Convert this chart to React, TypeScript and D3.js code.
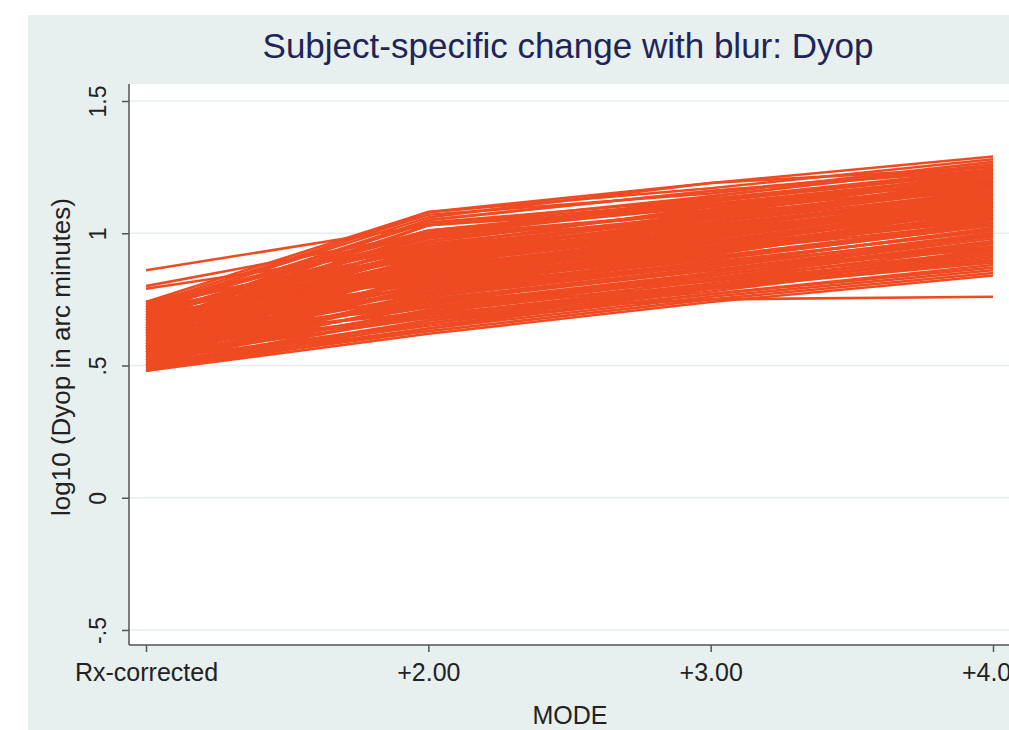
import { useEffect, useRef } from 'react';
import * as d3 from 'd3';

// MODE categories on the x axis
const modes = ['Rx-corrected', '+2.00', '+3.00', '+4.00'];

// log10 Dyop per subject, one array per mode (same subject order)
const rxValues = [
  0.86, 0.8, 0.79, 0.74, 0.73, 0.72, 0.72, 0.71, 0.7, 0.7, 0.69, 0.69, 0.68, 0.68, 0.67, 0.67,
  0.66, 0.66, 0.65, 0.65, 0.64, 0.64, 0.63, 0.63, 0.62, 0.62, 0.61, 0.61, 0.6, 0.6, 0.59, 0.59,
  0.58, 0.58, 0.57, 0.57, 0.56, 0.56, 0.55, 0.55, 0.54, 0.54, 0.53, 0.53, 0.52, 0.52, 0.51, 0.51,
  0.5, 0.5, 0.49, 0.49, 0.48, 0.48, 0.6, 0.66, 0.62, 0.58, 0.7, 0.72, 0.74, 0.55, 0.52, 0.5,
  0.68, 0.64, 0.57, 0.61, 0.71, 0.65, 0.59, 0.53, 0.73, 0.63, 0.56, 0.67,
  0.49, 0.51, 0.53, 0.54, 0.56, 0.57, 0.58, 0.59, 0.6, 0.61, 0.62, 0.63, 0.64, 0.65, 0.66, 0.67,
  0.68, 0.69, 0.7, 0.71, 0.72, 0.73, 0.74, 0.48, 0.5, 0.52, 0.55, 0.57, 0.59, 0.61, 0.63, 0.65,
  0.67, 0.69, 0.71, 0.62, 0.55, 0.58, 0.64, 0.66,
];
const plus2Values = [
  1.03, 1.0, 0.95, 1.08, 1.07, 1.06, 1.0, 1.04, 0.97, 0.93, 1.01, 0.95, 0.9, 0.99, 0.92, 0.86,
  0.96, 0.88, 0.94, 0.84, 0.91, 0.8, 0.87, 0.93, 0.82, 0.89, 0.78, 0.85, 0.9, 0.76, 0.83, 0.79,
  0.86, 0.74, 0.81, 0.77, 0.84, 0.72, 0.79, 0.75, 0.7, 0.8, 0.73, 0.68, 0.76, 0.66, 0.71, 0.65,
  0.69, 0.64, 0.67, 0.63, 0.62, 0.66, 0.7, 0.74, 0.72, 0.68, 0.82, 0.88, 0.98, 0.88, 0.84, 0.78,
  0.83, 0.97, 0.92, 0.95, 1.08, 1.03, 0.9, 0.8, 0.94, 0.85, 0.75, 1.05,
  0.7, 0.74, 0.77, 0.69, 0.8, 0.86, 0.91, 0.73, 0.85, 0.88, 0.94, 0.78, 0.86, 0.99, 0.81, 0.94,
  1.03, 0.87, 1.05, 0.91, 0.96, 1.01, 0.92, 0.64, 0.67, 0.71, 0.83, 0.75, 0.87, 0.82, 0.9, 0.77,
  0.89, 0.98, 0.86, 0.8, 0.72, 0.81, 0.93, 1.0,
];
const plus3Values = [
  1.1, 1.12, 1.06, 1.19, 1.15, 1.19, 1.1, 1.13, 1.09, 1.05, 1.11, 1.02, 1.04, 1.08, 1.0, 0.98,
  1.07, 1.01, 1.03, 0.96, 1.06, 0.93, 0.99, 1.04, 0.95, 1.02, 0.91, 0.97, 1.0, 0.88, 0.94, 0.9,
  0.98, 0.86, 0.92, 0.89, 0.95, 0.84, 0.9, 0.87, 0.82, 0.93, 0.85, 0.8, 0.88, 0.79, 0.83, 0.77,
  0.81, 0.76, 0.78, 0.75, 0.74, 0.77, 0.75, 0.82, 0.8, 0.79, 0.91, 0.97, 1.14, 1.01, 0.97, 0.92,
  0.96, 1.09, 1.05, 1.1, 1.17, 1.12, 1.03, 0.94, 1.07, 0.99, 0.86, 1.16,
  0.84, 0.87, 0.91, 0.8, 0.92, 0.99, 1.03, 0.84, 0.96, 1.02, 1.06, 0.89, 0.95, 1.11, 0.93, 1.04,
  1.14, 0.99, 1.16, 1.01, 1.07, 1.12, 1.03, 0.79, 0.8, 0.85, 0.98, 0.86, 1.0, 0.94, 1.02, 0.88,
  1.0, 1.08, 0.97, 0.9, 0.83, 0.94, 1.08, 1.13,
];
const plus4Values = [
  1.2, 1.24, 1.18, 1.29, 1.27, 1.25, 1.22, 1.24, 1.23, 1.21, 1.19, 1.16, 1.2, 1.23, 1.14, 1.12,
  1.22, 1.17, 1.13, 1.1, 1.19, 1.08, 1.15, 1.18, 1.06, 1.16, 1.04, 1.11, 1.14, 1.02, 1.09, 1.05,
  1.12, 0.99, 1.07, 1.01, 1.1, 0.97, 1.03, 1.0, 0.95, 1.06, 0.98, 0.92, 1.02, 0.9, 0.96, 0.88,
  0.93, 0.86, 0.91, 0.85, 0.84, 0.87, 0.76, 0.92, 0.89, 0.9, 1.03, 1.08, 1.26, 1.13, 1.11, 1.07,
  1.09, 1.21, 1.17, 1.2, 1.28, 1.24, 1.15, 1.05, 1.18, 1.12, 0.94, 1.25,
  0.97, 1.0, 1.04, 0.94, 1.08, 1.13, 1.15, 0.96, 1.09, 1.14, 1.19, 1.01, 1.07, 1.22, 1.04, 1.16,
  1.26, 1.11, 1.24, 1.13, 1.17, 1.23, 1.15, 0.89, 0.91, 0.99, 1.12, 0.95, 1.1, 1.06, 1.15, 0.99,
  1.12, 1.19, 1.1, 1.03, 0.93, 1.06, 1.21, 1.23,
];

// y axis ticks
const yTicks = [-0.5, 0, 0.5, 1, 1.5];
const yTickLabels = ['-.5', '0', '.5', '1', '1.5'];

export default function App() {
  const svgRef = useRef<SVGSVGElement>(null);

  useEffect(() => {
    if (!svgRef.current) return;
    d3.select(svgRef.current).selectAll('*').remove();

    const W = 1009;
    const H = 730;
    const panel = { left: 28, top: 15 };
    const plot = { left: 129, top: 84, right: 1009, bottom: 645 };
    const font = '"Liberation Sans", Arial, sans-serif';

    const svg = d3.select(svgRef.current).attr('width', W).attr('height', H);

    // outer background panel
    svg
      .append('rect')
      .attr('x', panel.left)
      .attr('y', panel.top)
      .attr('width', W - panel.left)
      .attr('height', H - panel.top)
      .attr('fill', '#e8efef');

    // plot region
    svg
      .append('rect')
      .attr('x', plot.left)
      .attr('y', plot.top)
      .attr('width', plot.right - plot.left)
      .attr('height', plot.bottom - plot.top)
      .attr('fill', '#ffffff');

    const x = d3.scalePoint<string>().domain(modes).range([146, 993]);
    const y = d3.scaleLinear().domain([-0.5, 1.5]).range([630, 101]);

    // gridlines
    svg
      .append('g')
      .selectAll('line')
      .data(yTicks)
      .enter()
      .append('line')
      .attr('x1', plot.left)
      .attr('x2', plot.right)
      .attr('y1', (d) => y(d))
      .attr('y2', (d) => y(d))
      .attr('stroke', '#e6eded')
      .attr('stroke-width', 1.5);

    // subject lines
    const subjects = rxValues.map((v, i) => [v, plus2Values[i], plus3Values[i], plus4Values[i]]);
    const line = d3
      .line<number>()
      .x((_, i) => x(modes[i]) as number)
      .y((d) => y(d));

    svg
      .append('g')
      .selectAll('path')
      .data(subjects)
      .enter()
      .append('path')
      .attr('d', (d) => line(d))
      .attr('fill', 'none')
      .attr('stroke', '#ef4b22')
      .attr('stroke-width', 2.6)
      .attr('stroke-linejoin', 'round');

    // axis lines
    svg
      .append('line')
      .attr('x1', plot.left)
      .attr('x2', plot.left)
      .attr('y1', plot.top)
      .attr('y2', plot.bottom)
      .attr('stroke', '#555')
      .attr('stroke-width', 1.5);
    svg
      .append('line')
      .attr('x1', plot.left)
      .attr('x2', plot.right)
      .attr('y1', plot.bottom)
      .attr('y2', plot.bottom)
      .attr('stroke', '#555')
      .attr('stroke-width', 1.5);

    // y ticks
    const yAxis = svg
      .append('g')
      .attr('transform', `translate(${plot.left},0)`)
      .call(
        d3
          .axisLeft(y)
          .tickValues(yTicks)
          .tickSize(7)
          .tickFormat((_, i) => yTickLabels[i])
      );
    yAxis.select('.domain').remove();
    yAxis.selectAll('line').attr('stroke', '#555').attr('stroke-width', 1.5);
    yAxis
      .selectAll('text')
      .attr('x', null)
      .attr('dy', null)
      .attr('transform', 'translate(-23,0) rotate(-90)')
      .attr('text-anchor', 'middle')
      .style('font-family', font)
      .style('font-size', '23px')
      .style('fill', '#222');

    // x ticks
    const xAxis = svg
      .append('g')
      .attr('transform', `translate(0,${plot.bottom})`)
      .call(d3.axisBottom(x).tickSize(7));
    xAxis.select('.domain').remove();
    xAxis.selectAll('line').attr('stroke', '#555').attr('stroke-width', 1.5);
    xAxis
      .selectAll('text')
      .attr('y', 36)
      .attr('dy', null)
      .style('font-family', font)
      .style('font-size', '25px')
      .style('fill', '#222');

    // axis titles
    svg
      .append('text')
      .attr('transform', `translate(70,357) rotate(-90)`)
      .attr('text-anchor', 'middle')
      .style('font-family', font)
      .style('font-size', '26px')
      .style('fill', '#222')
      .text('log10 (Dyop in arc minutes)');

    svg
      .append('text')
      .attr('x', 570)
      .attr('y', 724)
      .attr('text-anchor', 'middle')
      .style('font-family', font)
      .style('font-size', '25px')
      .style('fill', '#222')
      .text('MODE');

    // title
    svg
      .append('text')
      .attr('x', 568)
      .attr('y', 58)
      .attr('text-anchor', 'middle')
      .style('font-family', font)
      .style('font-size', '35px')
      .style('fill', '#1f2556')
      .text('Subject-specific change with blur: Dyop');
  }, []);

  return (
    <div style={{ position: 'absolute', left: 0, top: 0, width: 1009, height: 730, overflow: 'hidden', background: '#fff' }}>
      <svg ref={svgRef} style={{ display: 'block' }} />
    </div>
  );
}
